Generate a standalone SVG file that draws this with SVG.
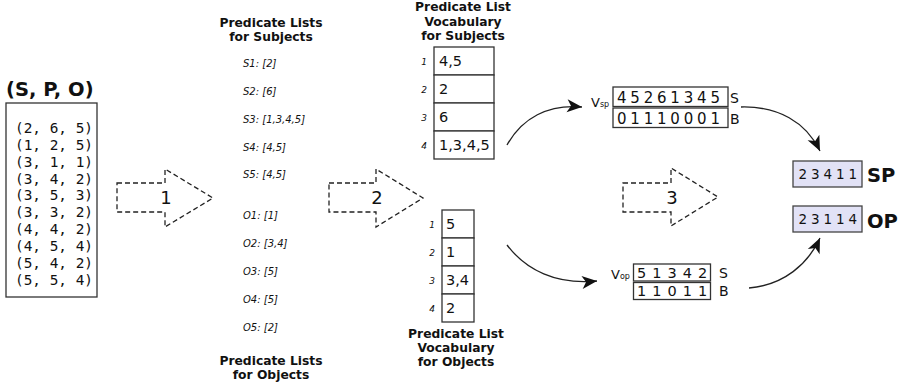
<svg xmlns="http://www.w3.org/2000/svg" width="901" height="386" viewBox="0 0 901 386">
<defs>
<marker id="ah" markerUnits="userSpaceOnUse" markerWidth="20" markerHeight="16" viewBox="-16 -8 18 16" refX="0" refY="0" orient="auto">
<path d="M0,0 L-15,-6.5 L-11,0 L-15,6.5 Z" fill="#111"/>
</marker>
</defs>
<style>
text{font-family:"DejaVu Sans","Liberation Sans",sans-serif;fill:#111}
.b{font-weight:bold;font-size:12.3px;text-anchor:middle}
.it{font-style:italic;font-size:10px}
.idx{font-style:italic;font-size:9px;text-anchor:middle}
.cell{font-size:14.5px}
.mono{font-family:"DejaVu Sans Mono","Liberation Mono",monospace;font-size:14.4px}
.box{fill:#fff;stroke:#333;stroke-width:1.3}
.dash{fill:none;stroke:#222;stroke-width:1.3;stroke-dasharray:5,3}
.num{font-size:18px;text-anchor:middle}
.con{fill:none;stroke:#222;stroke-width:1.3}
.seq{font-size:15px}
.res{fill:#e2e2f6;stroke:#444;stroke-width:1.3}
.lab{font-size:14px}
.big{font-weight:bold;font-size:19.5px}
</style>

<g id="triples">
<text x="6" y="96" class="big">(S, P, O)</text>
<rect x="6" y="103" width="91" height="194" class="box"/>
<text class="mono" x="15" y="133">(2, 6, 5)</text>
<text class="mono" x="15" y="150">(1, 2, 5)</text>
<text class="mono" x="15" y="166.5">(3, 1, 1)</text>
<text class="mono" x="15" y="183.5">(3, 4, 2)</text>
<text class="mono" x="15" y="200">(3, 5, 3)</text>
<text class="mono" x="15" y="217">(3, 3, 2)</text>
<text class="mono" x="15" y="234">(4, 4, 2)</text>
<text class="mono" x="15" y="250.5">(4, 5, 4)</text>
<text class="mono" x="15" y="267.5">(5, 4, 2)</text>
<text class="mono" x="15" y="284.5">(5, 5, 4)</text>
</g>

<g id="step1">
<polygon points="117,183 165,183 165,169 213,198 165,227 165,212 117,212" class="dash"/>
<text x="166" y="203.5" class="num">1</text>
</g>

<g id="lists-subjects">
<text x="271" y="27" class="b">Predicate Lists</text>
<text x="271" y="40.5" class="b">for Subjects</text>
<text x="243" y="67" class="it">S1: [2]</text>
<text x="243" y="95" class="it">S2: [6]</text>
<text x="243" y="122.5" class="it">S3: [1,3,4,5]</text>
<text x="243" y="150.5" class="it">S4: [4,5]</text>
<text x="243" y="178" class="it">S5: [4,5]</text>
</g>

<g id="lists-objects">
<text x="243" y="219" class="it">O1: [1]</text>
<text x="243" y="247" class="it">O2: [3,4]</text>
<text x="243" y="274.5" class="it">O3: [5]</text>
<text x="243" y="302.5" class="it">O4: [5]</text>
<text x="243" y="330.5" class="it">O5: [2]</text>
<text x="271" y="365" class="b">Predicate Lists</text>
<text x="271" y="378.5" class="b">for Objects</text>
</g>

<g id="step2">
<polygon points="329,183 376,183 376,169 423,198 376,227 376,212 329,212" class="dash"/>
<text x="377" y="204" class="num">2</text>
</g>

<g id="vocab-subjects">
<text x="463" y="11" class="b">Predicate List</text>
<text x="463" y="25.5" class="b">Vocabulary</text>
<text x="463" y="39.5" class="b">for Subjects</text>
<rect x="434" y="47" width="60" height="28" class="box"/>
<rect x="434" y="75" width="60" height="28" class="box"/>
<rect x="434" y="103" width="60" height="28" class="box"/>
<rect x="434" y="131" width="60" height="28" class="box"/>
<text x="424" y="65" class="idx">1</text>
<text x="424" y="93" class="idx">2</text>
<text x="424" y="121" class="idx">3</text>
<text x="424" y="149" class="idx">4</text>
<text x="439" y="66" class="cell">4,5</text>
<text x="439" y="94" class="cell">2</text>
<text x="439" y="122" class="cell">6</text>
<text x="439" y="150" class="cell">1,3,4,5</text>
</g>

<g id="vocab-objects">
<rect x="442" y="210" width="32" height="28" class="box"/>
<rect x="442" y="238" width="32" height="28" class="box"/>
<rect x="442" y="266" width="32" height="28" class="box"/>
<rect x="442" y="294" width="32" height="28" class="box"/>
<text x="432" y="228" class="idx">1</text>
<text x="432" y="256" class="idx">2</text>
<text x="432" y="284" class="idx">3</text>
<text x="432" y="312" class="idx">4</text>
<text x="446" y="229" class="cell">5</text>
<text x="446" y="257" class="cell">1</text>
<text x="446" y="285" class="cell">3,4</text>
<text x="446" y="313" class="cell">2</text>
<text x="456" y="338" class="b">Predicate List</text>
<text x="456" y="352" class="b">Vocabulary</text>
<text x="456" y="366" class="b">for Objects</text>
</g>

<g id="step3">
<polygon points="623,183 671,183 671,168 718,197 671,226 671,212 623,212" class="dash"/>
<text x="672" y="204" class="num">3</text>
</g>

<g id="vsp">
<text x="591" y="106.5" style="font-size:13px">V<tspan style="font-size:8px">sp</tspan></text>
<rect x="613" y="87" width="115" height="19.5" class="box"/>
<rect x="613" y="108" width="115" height="19.5" class="box"/>
<text x="617" y="103" class="seq" style="letter-spacing:3.8px">45261345</text>
<text x="617" y="123.5" class="seq" style="letter-spacing:3.8px">01110001</text>
<text x="730" y="103" class="lab">S</text>
<text x="730" y="123.5" class="lab">B</text>
</g>

<g id="vop">
<text x="611" y="279" style="font-size:13px">V<tspan style="font-size:8px">op</tspan></text>
<rect x="633.5" y="264" width="77" height="17" class="box"/>
<rect x="633.5" y="282.5" width="77" height="17" class="box"/>
<text x="637" y="278" style="font-size:14.5px;letter-spacing:6px">51342</text>
<text x="637" y="296" style="font-size:14.5px;letter-spacing:6px">11011</text>
<text x="719" y="278" class="lab">S</text>
<text x="719" y="296" class="lab">B</text>
</g>

<g id="sp">
<rect x="793" y="161" width="69" height="26" class="res"/>
<text x="798.5" y="179" style="font-size:13.5px;letter-spacing:3.9px">23411</text>
<text x="867" y="182" class="big">SP</text>
</g>

<g id="op">
<rect x="793" y="206" width="69" height="26" class="res"/>
<text x="798.5" y="224" style="font-size:13.5px;letter-spacing:3.9px">23114</text>
<text x="867" y="228" class="big">OP</text>
</g>

<g id="connectors">
<path d="M507,145 C522,118 548,104 582,107" class="con" marker-end="url(#ah)"/>
<path d="M507,245 C526,270 556,285 597,281" class="con" marker-end="url(#ah)"/>
<path d="M741,107 C778,106 806,122 820,151" class="con" marker-end="url(#ah)"/>
<path d="M749,288 C784,285 808,264 820,238" class="con" marker-end="url(#ah)"/>
</g>
</svg>
